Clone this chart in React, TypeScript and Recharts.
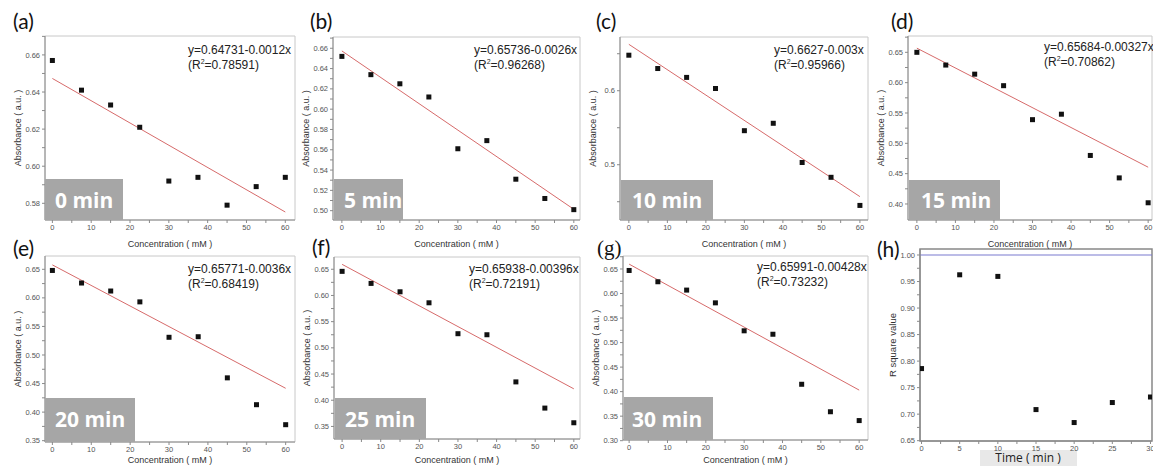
import React from 'react';
import { ScatterChart, Scatter, XAxis, YAxis, ReferenceLine, ReferenceArea } from 'recharts';

// concentration of each sample (mM)
const concentration = [0, 7.5, 15, 22.5, 30, 37.5, 45, 52.5, 60];

// absorbance read at each time point
const abs0min = [0.657, 0.641, 0.633, 0.621, 0.592, 0.594, 0.579, 0.589, 0.594];
const abs5min = [0.652, 0.634, 0.625, 0.612, 0.561, 0.569, 0.531, 0.512, 0.501];
const abs10min = [0.648, 0.630, 0.618, 0.603, 0.546, 0.556, 0.503, 0.483, 0.445];
const abs15min = [0.650, 0.629, 0.614, 0.595, 0.539, 0.548, 0.480, 0.443, 0.402];
const abs20min = [0.648, 0.626, 0.612, 0.593, 0.531, 0.532, 0.460, 0.413, 0.378];
const abs25min = [0.646, 0.623, 0.607, 0.586, 0.527, 0.525, 0.435, 0.385, 0.357];
const abs30min = [0.647, 0.624, 0.607, 0.581, 0.524, 0.517, 0.415, 0.359, 0.341];

const timeLabels = ['0 min', '5 min', '10 min', '15 min', '20 min', '25 min', '30 min'];

// linear fits (intercept, slope)
const fitIntercept = [0.64731, 0.65736, 0.6627, 0.65684, 0.65771, 0.65938, 0.65991];
const fitSlope = [-0.0012, -0.0026, -0.00343, -0.00327, -0.0036, -0.00396, -0.00428];
const equations = [
  'y=0.64731-0.0012x',
  'y=0.65736-0.0026x',
  'y=0.6627-0.003x',
  'y=0.65684-0.00327x',
  'y=0.65771-0.0036x',
  'y=0.65938-0.00396x',
  'y=0.65991-0.00428x',
];
const r2Labels = ['0.78591', '0.96268', '0.95966', '0.70862', '0.68419', '0.72191', '0.73232'];

// panel (h)
const reactionTime = [0, 5, 10, 15, 20, 25, 30];
const rSquare = [0.78591, 0.96268, 0.95966, 0.70862, 0.68419, 0.72191, 0.73232];

const panelLetters = ['(a)', '(b)', '(c)', '(d)', '(e)', '(f)', '(g)', '(h)'];

const series = [abs0min, abs5min, abs10min, abs15min, abs20min, abs25min, abs30min];

const FONT = '"Liberation Sans", Arial, sans-serif';

type Layout = {
  l: number; t: number; r: number; b: number;
  xd: [number, number]; yd: [number, number];
  yFrom: number; yTo: number; yMinor: number; yMajor: number; dec: number;
};

const layouts: Layout[] = [
  { l: 45, t: 36, r: 295, b: 220, xd: [-1.9, 62.5], yd: [0.571, 0.6702], yFrom: 0.58, yTo: 0.67, yMinor: 0.01, yMajor: 0.02, dec: 2 },
  { l: 333, t: 37, r: 580, b: 220, xd: [-2.3, 61.6], yd: [0.4908, 0.6711], yFrom: 0.5, yTo: 0.67, yMinor: 0.01, yMajor: 0.02, dec: 2 },
  { l: 620, t: 37, r: 868, b: 220, xd: [-2.3, 62.1], yd: [0.4253, 0.6726], yFrom: 0.45, yTo: 0.65, yMinor: 0.05, yMajor: 0.1, dec: 1 },
  { l: 908, t: 36, r: 1152, b: 220, xd: [-2.3, 61.0], yd: [0.3736, 0.6769], yFrom: 0.4, yTo: 0.675, yMinor: 0.025, yMajor: 0.05, dec: 2 },
  { l: 45, t: 256, r: 295, b: 442, xd: [-1.9, 62.4], yd: [0.3477, 0.6733], yFrom: 0.35, yTo: 0.65, yMinor: 0.025, yMajor: 0.05, dec: 2 },
  { l: 334, t: 257, r: 580, b: 439, xd: [-2.1, 61.6], yd: [0.326, 0.6734], yFrom: 0.35, yTo: 0.65, yMinor: 0.025, yMajor: 0.05, dec: 2 },
  { l: 623, t: 256, r: 868, b: 440, xd: [-1.6, 62.3], yd: [0.3014, 0.6765], yFrom: 0.3, yTo: 0.675, yMinor: 0.025, yMajor: 0.05, dec: 2 },
  { l: 920, t: 249, r: 1152, b: 441, xd: [-0.2, 30.2], yd: [0.6494, 1.0113], yFrom: 0.65, yTo: 1.0, yMinor: 0.025, yMajor: 0.05, dec: 2 },
];

// gray "x min" badges: [x, y, w, h, textX, baseline]
const badges = [
  [45, 179, 78, 41, 55, 208],
  [334, 179, 69, 41, 344, 208],
  [621, 180, 92, 40, 632, 208],
  [909, 180, 91, 40, 921, 208],
  [45, 398, 90, 44, 55, 427],
  [335, 398, 91, 41, 345, 427],
  [624, 397, 89, 43, 632, 427],
];
const eqPos = [
  [188, 54], [474, 54], [774, 54], [1044, 51],
  [188, 273], [469, 273], [757, 271],
];
const letterPos = [
  [13, 29], [310, 29], [596, 29], [891, 29],
  [13, 256], [312, 255], [597, 255], [877, 257],
];

const YW = 40;
const XH = 22;
const MT = 8;
const MR = 6;

const makeTicks = (from: number, to: number, step: number) => {
  const out: number[] = [];
  for (let v = from; v <= to + 1e-9; v += step) out.push(Math.round(v * 10000) / 10000);
  return out;
};

const isMajor = (v: number, step: number) => Math.abs(v / step - Math.round(v / step)) < 1e-6;

const Square = (props: any) => (
  <rect x={props.cx - 2.5} y={props.cy - 2.5} width={5} height={5} fill="#111" />
);

function Panel({ idx }: { idx: number }) {
  const L = layouts[idx];
  const isR2 = idx === 7;
  const data = isR2
    ? reactionTime.map((t, i) => ({ x: t, y: rSquare[i] }))
    : concentration.map((c, i) => ({ x: c, y: series[idx][i] }));
  const xTicks = isR2 ? makeTicks(0, 30, 2.5) : makeTicks(0, 60, 5);
  const xMajor = isR2 ? 5 : 10;
  const yTicks = makeTicks(L.yFrom, L.yTo, L.yMinor);
  const w = L.r - L.l + YW + MR;
  const h = L.b - L.t + MT + XH;

  const xTick = (p: any) => {
    const v = p.payload.value;
    if (!isMajor(v, xMajor)) return <g />;
    return (
      <text x={p.x} y={p.y} dy="0.71em" textAnchor="middle" fontSize={7.5} fill="#555" fontFamily={FONT}>
        {v}
      </text>
    );
  };
  const yTick = (p: any) => {
    const v = p.payload.value;
    if (!isMajor(v, L.yMajor)) return <g />;
    return (
      <text x={p.x} y={p.y} dy="0.35em" textAnchor="end" fontSize={7.5} fill="#555" fontFamily={FONT}>
        {v.toFixed(L.dec)}
      </text>
    );
  };

  return (
    <div style={{ position: 'absolute', left: L.l - YW, top: L.t - MT }}>
      <ScatterChart width={w} height={h} margin={{ top: MT, right: MR, bottom: 0, left: 0 }}>
        <XAxis
          type="number"
          dataKey="x"
          domain={L.xd}
          ticks={xTicks}
          interval={0}
          allowDataOverflow
          height={XH}
          tick={xTick}
          tickSize={3}
          tickMargin={2}
          tickLine={{ stroke: '#8a8a8a' }}
          axisLine={{ stroke: '#8a8a8a' }}
        />
        <YAxis
          type="number"
          dataKey="y"
          domain={L.yd}
          ticks={yTicks}
          interval={0}
          allowDataOverflow
          width={YW}
          tick={yTick}
          tickSize={3}
          tickMargin={2}
          tickLine={{ stroke: '#8a8a8a' }}
          axisLine={{ stroke: '#8a8a8a' }}
        />
        <ReferenceArea
          x1={L.xd[0]}
          x2={L.xd[1]}
          y1={L.yd[0]}
          y2={L.yd[1]}
          fill="none"
          stroke={isR2 ? '#888' : '#c8c8c8'}
          strokeWidth={isR2 ? 1.5 : 1}
          ifOverflow="visible"
        />
        {isR2 ? (
          <ReferenceLine y={1} stroke="#7b7bd0" strokeWidth={1.2} ifOverflow="visible" />
        ) : (
          <ReferenceLine
            segment={[
              { x: concentration[0], y: fitIntercept[idx] + fitSlope[idx] * concentration[0] },
              { x: concentration[8], y: fitIntercept[idx] + fitSlope[idx] * concentration[8] },
            ]}
            stroke="#cc4444"
            strokeWidth={0.8}
            ifOverflow="visible"
          />
        )}
        <Scatter data={data} shape={Square} isAnimationActive={false} />
      </ScatterChart>
    </div>
  );
}

export default function App() {
  return (
    <div
      style={{
        position: 'absolute',
        left: 0,
        top: 0,
        width: 1153,
        height: 466,
        background: '#fff',
        overflow: 'hidden',
      }}
    >
      {/* backdrop behind the (h) axis title, under the tick labels */}
      <svg width={1153} height={466} style={{ position: 'absolute', left: 0, top: 0 }}>
        <rect x={980} y={450} width={97} height={16} fill="#e8e8e8" />
      </svg>
      {layouts.map((_, i) => (
        <Panel key={i} idx={i} />
      ))}
      <svg
        width={1153}
        height={466}
        style={{ position: 'absolute', left: 0, top: 0, pointerEvents: 'none' }}
      >
        {badges.map((b, i) => (
          <g key={'b' + i}>
            <rect x={b[0]} y={b[1]} width={b[2]} height={b[3]} fill="#a6a6a6" />
            <text x={b[4]} y={b[5]} fontSize={21} fontWeight={700} fill="#fff" fontFamily='"Open Sans", sans-serif'>
              {timeLabels[i]}
            </text>
          </g>
        ))}
        {eqPos.map((p, i) => (
          <g key={'e' + i} fontFamily={FONT} fontSize={12} fill="#222">
            <text x={p[0]} y={p[1]}>{equations[i]}</text>
            <text x={p[0]} y={p[1] + 15}>
              <tspan>(R</tspan>
              <tspan dy={-5} fontSize={7}>2</tspan>
              <tspan dy={5}>={r2Labels[i]})</tspan>
            </text>
          </g>
        ))}
        {letterPos.map((p, i) => (
          <text
            key={'l' + i}
            x={p[0]}
            y={p[1]}
            fontSize={21}
            fill="#111"
            fontFamily={i === 6 ? '"Liberation Serif", serif' : 'Lato, "Open Sans", sans-serif'}
          >
            {panelLetters[i]}
          </text>
        ))}
        {layouts.map((L, i) => {
          const cx = (L.l + L.r) / 2;
          const cy = (L.t + L.b) / 2;
          const isR2 = i === 7;
          return (
            <g key={'a' + i} fontFamily={FONT} fill="#333">
              {!isR2 && (
                <text x={cx} y={i < 4 ? 247 : 463} textAnchor="middle" fontSize={9}>
                  Concentration ( mM )
                </text>
              )}
              <text
                x={L.l - 27}
                y={cy}
                textAnchor="middle"
                fontSize={isR2 ? 9.5 : 9}
                transform={`rotate(-90 ${L.l - 27} ${cy})`}
                dy="0.35em"
              >
                {isR2 ? 'R square value' : 'Absorbance ( a.u. )'}
              </text>
            </g>
          );
        })}
        <text x={1028} y={461.5} textAnchor="middle" fontSize={12} fill="#222" fontFamily='"Open Sans", sans-serif'>
          Time ( min )
        </text>
      </svg>
    </div>
  );
}
